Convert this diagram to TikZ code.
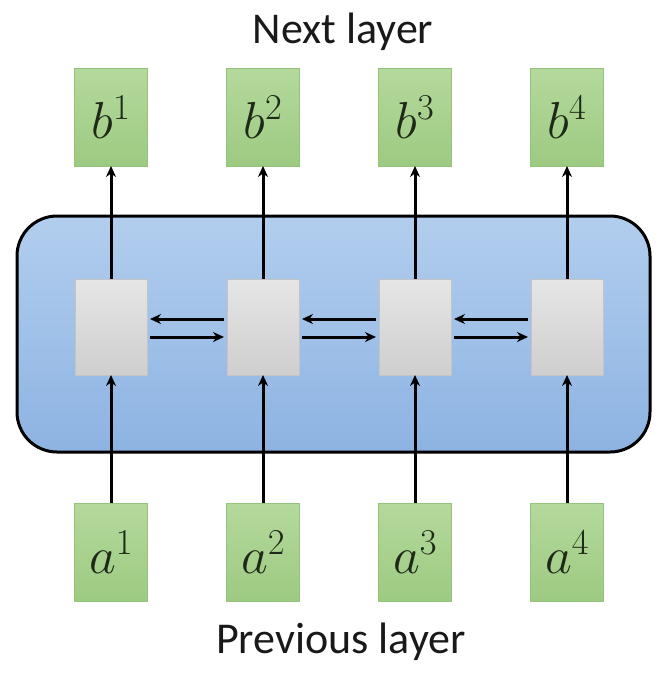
\RequirePackage{fix-cm}
\documentclass[tikz,border=0pt]{standalone}
\usepackage{fontspec}
\setmainfont{Carlito}
\usepackage{tikz}
\usetikzlibrary{arrows.meta, positioning}
\definecolor{paneltop}{HTML}{B2CEEE}
\definecolor{panelbottom}{HTML}{8DB3E2}
\definecolor{greentop}{HTML}{B4D99D}
\definecolor{greenbottom}{HTML}{9DCA81}
\definecolor{greenborder}{HTML}{93C47A}
\definecolor{cellborder}{HTML}{C4C4C4}
\definecolor{textdark}{HTML}{1E2A18}

\begin{document}
\begin{tikzpicture}[
    x=1pt, y=-1pt,
    vec/.style={rectangle, draw=greenborder, line width=0.8pt, top color=greentop,
                bottom color=greenbottom, minimum width=73pt, minimum height=98pt,
                inner sep=0pt, outer sep=0pt, font=\fontsize{52}{58}\selectfont,
                text=textdark},
    cell/.style={rectangle, draw=cellborder, line width=0.8pt, top color=gray!20,
                 bottom color=gray!38, minimum width=72pt, minimum height=96pt,
                 inner sep=0pt, outer sep=0pt},
    panel/.style={rectangle, rounded corners=40pt, draw=black, line width=3pt,
                  top color=paneltop, bottom color=panelbottom,
                  minimum width=633pt, minimum height=236pt},
    arrow/.style={-{Stealth[length=11pt, width=10pt]}, line width=3pt, color=black},
    caption/.style={font=\fontsize{44}{50}\selectfont, anchor=base, text=black!90},
]
\useasboundingbox (0,0) rectangle (665,683);

\node[panel] (rnn) at (333.5,334) {};

\node[vec] (b1) at (111,117) {$b^1$};
\node[vec, right=79pt of b1] (b2) {$b^2$};
\node[vec, right=79pt of b2] (b3) {$b^3$};
\node[vec, right=79pt of b3] (b4) {$b^4$};

\node[cell] (h1) at (111,327) {};
\node[cell, right=80pt of h1] (h2) {};
\node[cell, right=80pt of h2] (h3) {};
\node[cell, right=80pt of h3] (h4) {};

\node[vec] (a1) at (111,552) {$a^1$};
\node[vec, right=79pt of a1] (a2) {$a^2$};
\node[vec, right=79pt of a2] (a3) {$a^3$};
\node[vec, right=79pt of a3] (a4) {$a^4$};

\node[caption] (next) at (343,43) {Next layer};
\node[caption] (prev) at (341,653) {Previous layer};

% inputs and outputs
\draw[arrow] (a1) -- (h1);
\draw[arrow] (a2) -- (h2);
\draw[arrow] (a3) -- (h3);
\draw[arrow] (a4) -- (h4);
\draw[arrow] (h1) -- (b1);
\draw[arrow] (h2) -- (b2);
\draw[arrow] (h3) -- (b3);
\draw[arrow] (h4) -- (b4);

% backward and forward links
\draw[arrow, shorten <=3pt, shorten >=3pt] ([yshift=8pt]h2.west) -- ([yshift=8pt]h1.east);
\draw[arrow, shorten <=3pt, shorten >=3pt] ([yshift=8pt]h3.west) -- ([yshift=8pt]h2.east);
\draw[arrow, shorten <=3pt, shorten >=3pt] ([yshift=8pt]h4.west) -- ([yshift=8pt]h3.east);
\draw[arrow, shorten <=3pt, shorten >=3pt] ([yshift=-10pt]h1.east) -- ([yshift=-10pt]h2.west);
\draw[arrow, shorten <=3pt, shorten >=3pt] ([yshift=-10pt]h2.east) -- ([yshift=-10pt]h3.west);
\draw[arrow, shorten <=3pt, shorten >=3pt] ([yshift=-10pt]h3.east) -- ([yshift=-10pt]h4.west);

\end{tikzpicture}
\end{document}
